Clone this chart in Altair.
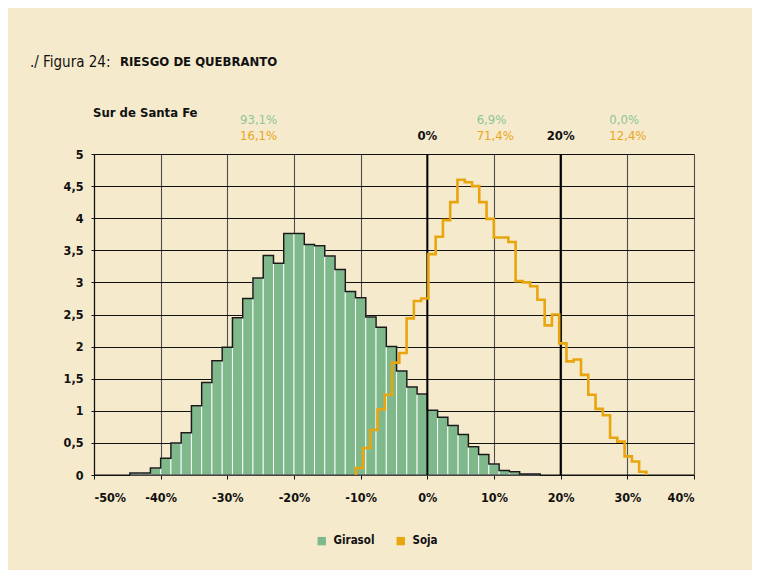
import altair as alt
import pandas as pd

# ---------------- values ----------------
girasol_first_edge = -44.615
girasol_bin_width = 20 / 13
girasol_density = [0.03, 0.03, 0.11, 0.26, 0.50, 0.66, 1.08, 1.44, 1.78, 1.99,
                   2.45, 2.75, 3.07, 3.42, 3.30, 3.76, 3.76, 3.59, 3.57, 3.41,
                   3.20, 2.86, 2.76, 2.46, 2.30, 2.00, 1.62, 1.37, 1.26, 1.01,
                   0.90, 0.77, 0.63, 0.44, 0.32, 0.17, 0.07, 0.05, 0.015, 0.015]

soja_first_edge = -10.74
soja_bin_width = 1.09
soja_density = [0.11, 0.42, 0.70, 1.02, 1.25, 1.75, 1.90, 2.44, 2.71, 2.75,
                3.44, 3.71, 3.97, 4.25, 4.60, 4.56, 4.50, 4.25, 3.99, 3.70,
                3.70, 3.63, 3.02, 3.00, 2.94, 2.73, 2.33, 2.50, 2.05, 1.77,
                1.80, 1.56, 1.25, 1.03, 0.93, 0.58, 0.52, 0.29, 0.21, 0.05]

series_names = ["Girasol", "Soja"]
x_ticks = [-50, -40, -30, -20, -10, 0, 10, 20, 30, 40]
y_ticks = [0, 0.5, 1, 1.5, 2, 2.5, 3, 3.5, 4, 4.5, 5]

thresholds = [0, 20]
threshold_labels = ["0%", "20%"]

zone_left = [-28.1, 7.4, 27.3]
girasol_share = ["93,1%", "6,9%", "0,0%"]
soja_share = ["16,1%", "71,4%", "12,4%"]

title_plain = "./ Figura 24:"
title_bold = "RIESGO DE QUEBRANTO"
subtitle = "Sur de Santa Fe"

# ---------------- styling ----------------
BG = "#f6eacc"
GREEN = "#7fb98b"
ORANGE = "#e8a50e"
GREEN_TXT = "#8cc597"
ORANGE_TXT = "#e9a61c"
FONT = "DejaVu Sans Condensed, Liberation Sans Narrow, sans-serif"

# ---------------- tables ----------------
n_g = len(girasol_density)
bars = pd.DataFrame({
    "x0": [girasol_first_edge + i * girasol_bin_width for i in range(n_g)],
    "x1": [girasol_first_edge + (i + 1) * girasol_bin_width for i in range(n_g)],
    "h": girasol_density,
    "base": [0] * n_g,
    "serie": ["Girasol"] * n_g,
})


def outline(first, width, dens, name):
    n = len(dens)
    xs = [first + i * width for i in range(n + 1)] + [first + n * width]
    ys = [0] + list(dens) + [0]
    return pd.DataFrame({"x": xs, "y": ys, "i": list(range(n + 2)), "serie": [name] * (n + 2)})


gir_line = outline(girasol_first_edge, girasol_bin_width, girasol_density, "Girasol")
soja_line = outline(soja_first_edge, soja_bin_width, soja_density, "Soja")

thr = pd.DataFrame({"x": thresholds, "label": threshold_labels})
zones = pd.DataFrame({"x": zone_left, "g": girasol_share, "s": soja_share})
base_df = pd.DataFrame({"y": [0]})

xscale = alt.Scale(domain=[-50, 40], nice=False, zero=False)
yscale = alt.Scale(domain=[0, 5], nice=False)

x_axis = alt.Axis(values=x_ticks, labelExpr="datum.value + '%'", title=None,
                  grid=True, gridColor="#4d4d4d", gridWidth=1.1,
                  domainColor="#111", domainWidth=1.2, tickColor="#111", tickSize=4,
                  labelFont=FONT, labelFontWeight="bold", labelFontSize=12.5,
                  labelColor="#111", labelPadding=12, labelOverlap=False)
y_axis = alt.Axis(values=y_ticks, labelExpr="replace(toString(datum.value), '.', ',')",
                  title=None, grid=True, gridColor="#111", gridWidth=1.2,
                  domainColor="#111", domainWidth=1.2, tickColor="#111", tickSize=3,
                  labelFont=FONT, labelFontWeight="bold", labelFontSize=12.5,
                  labelColor="#111", labelPadding=8, labelOverlap=False)


def X(field):
    return alt.X(field, scale=xscale, axis=x_axis)


def Y(field):
    return alt.Y(field, scale=yscale, axis=y_axis)


color = alt.Color("serie:N",
                  scale=alt.Scale(domain=series_names, range=[GREEN, ORANGE]),
                  legend=alt.Legend(orient="none", legendX=222, legendY=381,
                                    direction="horizontal", title=None,
                                    symbolType="square", symbolSize=70,
                                    symbolStrokeWidth=0, columnPadding=20,
                                    labelFont=FONT, labelFontWeight="bold",
                                    labelFontSize=11.5, labelColor="#111",
                                    padding=0, labelOffset=6))

bar_layer = alt.Chart(bars).mark_rect(stroke="white", strokeWidth=0.9).encode(
    x=X("x0:Q"), x2="x1:Q", y=Y("h:Q"), y2="base:Q", color=color)

gir_outline = alt.Chart(gir_line).mark_line(interpolate="step-before", color="#1a1a1a",
                                            strokeWidth=1.5).encode(
    x=X("x:Q"), y=Y("y:Q"), order="i:Q")

soja_layer = alt.Chart(soja_line).mark_line(interpolate="step-before", color=ORANGE,
                                            strokeWidth=2.6).encode(
    x=X("x:Q"), y=Y("y:Q"), order="i:Q")

thr_rules = alt.Chart(thr).mark_rule(color="#000", strokeWidth=2).encode(x=X("x:Q"))

base_rule = alt.Chart(base_df).mark_rule(color="#111", strokeWidth=1.2).encode(y=Y("y:Q"))

thr_text = alt.Chart(thr).mark_text(font=FONT, fontWeight="bold", fontSize=13,
                                    color="#111", baseline="middle").encode(
    x=X("x:Q"), y=alt.value(-18), text="label:N")

g_text = alt.Chart(zones).mark_text(font=FONT, fontSize=13, color=GREEN_TXT,
                                    align="left", baseline="middle").encode(
    x=X("x:Q"), y=alt.value(-34), text="g:N")

s_text = alt.Chart(zones).mark_text(font=FONT, fontSize=13, color=ORANGE_TXT,
                                    align="left", baseline="middle").encode(
    x=X("x:Q"), y=alt.value(-18), text="s:N")

titles = pd.DataFrame({"t1": [title_plain], "t2": [title_bold], "t3": [subtitle]})
t1 = alt.Chart(titles).mark_text(font=FONT, fontSize=15, color="#111", align="left",
                                 baseline="middle").encode(
    x=alt.value(-64), y=alt.value(-92), text="t1:N")
t2 = alt.Chart(titles).mark_text(font=FONT, fontSize=13, fontWeight="bold", color="#111",
                                 align="left", baseline="middle").encode(
    x=alt.value(26), y=alt.value(-92), text="t2:N")
t3 = alt.Chart(titles).mark_text(font=FONT, fontSize=13, fontWeight="bold", color="#111",
                                 align="left", baseline="middle").encode(
    x=alt.value(-1), y=alt.value(-41), text="t3:N")

chart = alt.layer(
    bar_layer, gir_outline, thr_rules, base_rule, soja_layer,
    thr_text, g_text, s_text, t1, t2, t3,
).properties(
    width=600, height=321,
    autosize=alt.AutoSizeParams(type="none"),
    padding={"left": 86, "top": 146, "right": 58, "bottom": 95},
    background=BG,
).configure_view(strokeWidth=0)

chart.save("out.html", embed_options={"renderer": "svg", "actions": False})
